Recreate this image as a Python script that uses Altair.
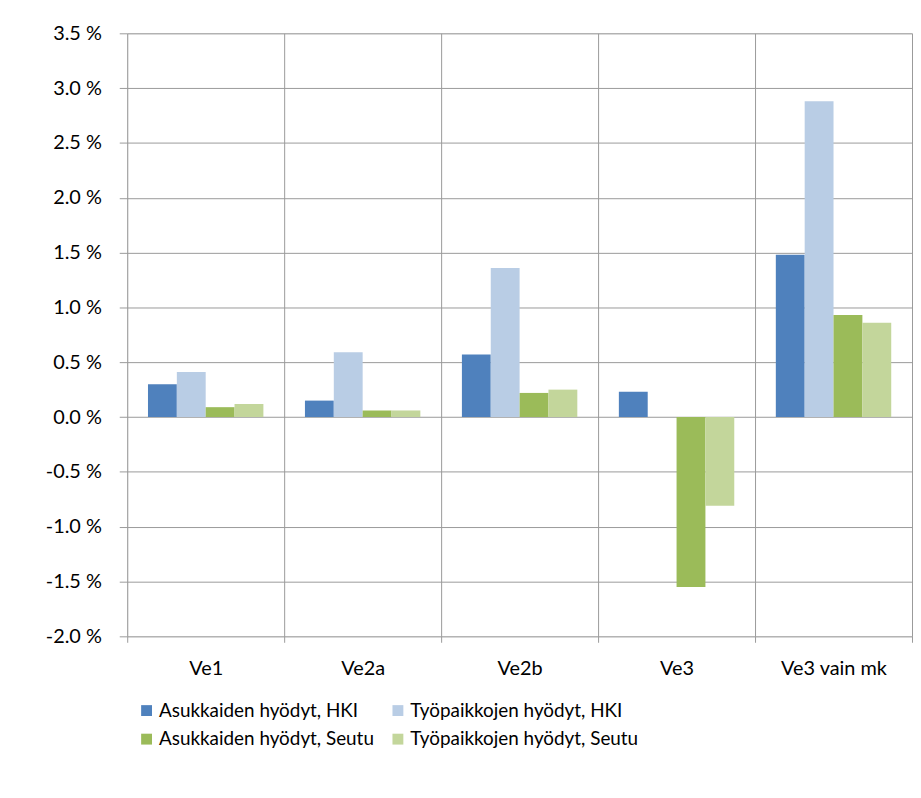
import altair as alt
import pandas as pd

categories = ["Ve1", "Ve2a", "Ve2b", "Ve3", "Ve3 vain mk"]
series = ["Asukkaiden hyödyt, HKI", "Työpaikkojen hyödyt, HKI",
          "Asukkaiden hyödyt, Seutu", "Työpaikkojen hyödyt, Seutu"]
asuk_hki = [0.30, 0.15, 0.57, 0.23, 1.48]
tyo_hki = [0.41, 0.59, 1.36, None, 2.88]
asuk_seutu = [0.09, 0.06, 0.22, -1.55, 0.93]
tyo_seutu = [0.12, 0.06, 0.25, -0.81, 0.86]
colors = ["#4F81BD", "#B9CDE5", "#9BBB59", "#C3D69B"]
y_ticks = [-2.0, -1.5, -1.0, -0.5, 0.0, 0.5, 1.0, 1.5, 2.0, 2.5, 3.0, 3.5]

rows = []
for s, vals in zip(series, [asuk_hki, tyo_hki, asuk_seutu, tyo_seutu]):
    for c, v in zip(categories, vals):
        if v is not None:
            rows.append({"cat": c, "series": s, "value": v})
df = pd.DataFrame(rows)

# legend fills column-wise: order entries so rows read HKI / Seutu
legend_order = [series[0], series[2], series[1], series[3]]
legend_colors = [colors[0], colors[2], colors[1], colors[3]]

FONT = "Lato"
grid = "#9a9a9a"

chart = alt.Chart(df).mark_bar().encode(
    x=alt.X("cat:N", sort=categories, title=None,
            scale=alt.Scale(paddingInner=0, paddingOuter=0),
            axis=alt.Axis(labelAngle=0, tickBand="extent", grid=True,
                          gridColor=grid, domain=False, ticks=True, tickSize=6,
                          tickColor=grid, labelPadding=16, labelFontSize=20,
                          labelColor="#000", labelFont=FONT)),
    xOffset=alt.XOffset("series:N", sort=series,
                        scale=alt.Scale(domain=series, paddingInner=0, paddingOuter=0.72)),
    y=alt.Y("value:Q", title=None,
            scale=alt.Scale(domain=[-2, 3.5], nice=False, zero=False),
            axis=alt.Axis(values=y_ticks, grid=True, gridColor=grid, domain=False,
                          tickColor=grid, tickSize=8, labelPadding=18,
                          labelFontSize=20, labelColor="#000", labelFont=FONT,
                          labelExpr="(datum.value < 0 ? '-' : '') + format(abs(datum.value), '.1f') + ' %'")),
    color=alt.Color("series:N", sort=legend_order,
                    scale=alt.Scale(domain=legend_order, range=legend_colors),
                    legend=alt.Legend(title=None, orient="none", legendX=10, legendY=672,
                                      columns=2, columnPadding=14, rowPadding=9,
                                      symbolType="square", symbolSize=120,
                                      symbolStrokeWidth=0, labelFontSize=19,
                                      labelFont=FONT, labelColor="#000",
                                      labelOffset=3, labelLimit=400)),
).properties(
    width=790, height=607,
    padding={"left": 37, "top": 13, "right": 0, "bottom": 5},
).configure_view(stroke=grid, strokeWidth=1).configure(background="white")

chart.save("out.html", embed_options={"renderer": "svg", "actions": False})
